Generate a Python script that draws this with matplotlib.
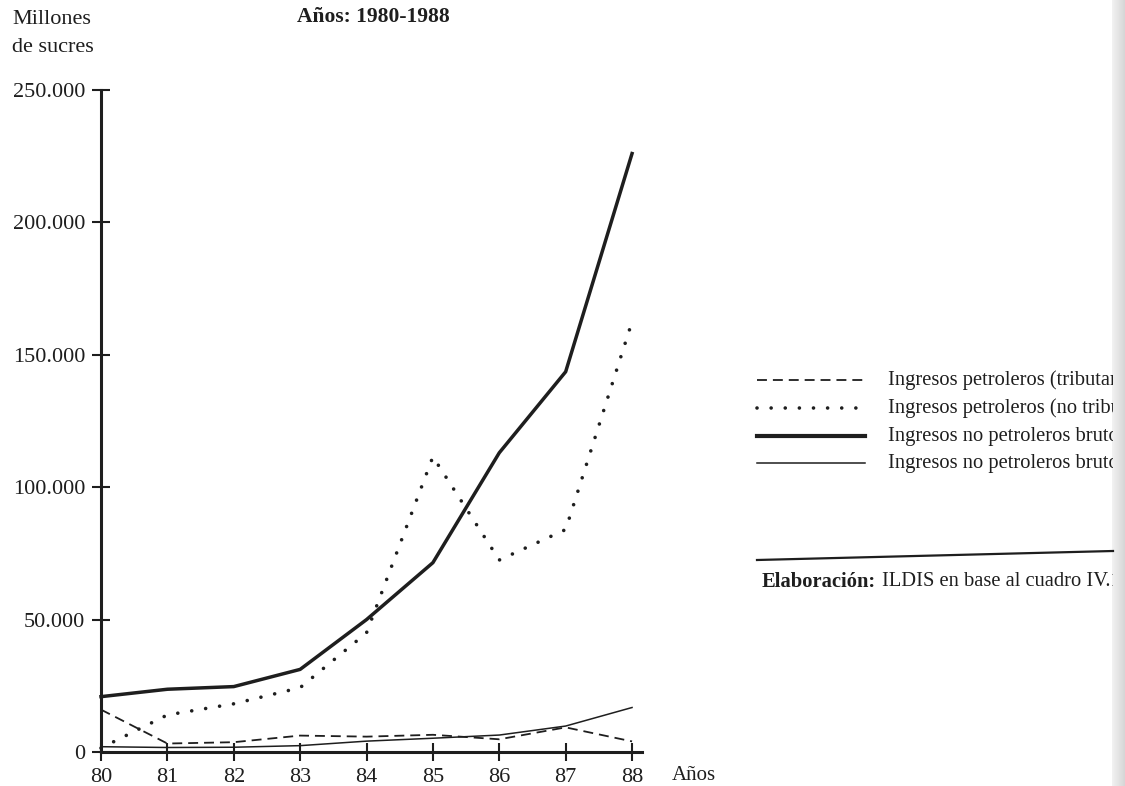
import numpy as np
import matplotlib
matplotlib.use("Agg")
import matplotlib.pyplot as plt
from matplotlib.lines import Line2D
from matplotlib.transforms import Bbox, TransformedBbox
from matplotlib.colors import LinearSegmentedColormap

plt.rcParams['font.family'] = ['Liberation Serif', 'DejaVu Serif']

# ---- data ----
years = [80, 81, 82, 83, 84, 85, 86, 87, 88]
petro_trib = [16000, 3200, 3700, 6200, 5800, 6500, 4800, 9300, 4000]
petro_no_trib = [1500, 14000, 18200, 24300, 45000, 111500, 72500, 84000, 162500]
no_petro_brutos_trib = [20900, 23700, 24700, 31200, 50000, 71500, 113000, 143600, 226000]
no_petro_brutos_no_trib = [2000, 1700, 1800, 2400, 4100, 5200, 6400, 9800, 16800]
labels = ["Ingresos petroleros (tributarios)",
          "Ingresos petroleros (no tributarios)",
          "Ingresos no petroleros brutos (tributarios)",
          "Ingresos no petroleros brutos (no tributarios)"]
yticks = [0, 50000, 100000, 150000, 200000, 250000]
ytick_labels = ["0", "50.000", "100.000", "150.000", "200.000", "250.000"]

W, H = 1125, 786
fig = plt.figure(figsize=(W / 100, H / 100), dpi=100)
fig.patch.set_facecolor('white')

ink = '#1e1e1e'
ax = fig.add_axes([101 / W, 1 - 752 / H, (642 - 101) / W, (752 - 90) / H])
ax.set_facecolor('none')

styles = [
    dict(color=ink, lw=1.3, linestyle=(0, (5.5, 3.3))),
    dict(color=ink, lw=2.6, linestyle=(0, (0.01, 3.9)), dash_capstyle='round'),
    dict(color=ink, lw=2.5, linestyle='-'),
    dict(color=ink, lw=1.1, linestyle='-'),
]
series = [petro_trib, petro_no_trib, no_petro_brutos_trib, no_petro_brutos_no_trib]
for vals, st in zip(series, styles):
    ax.plot(years, vals, clip_on=False, **st)

ax.set_xlim(80, 88.15)
ax.set_ylim(0, 250000)
for s in ['top', 'right']:
    ax.spines[s].set_visible(False)
for s in ['left', 'bottom']:
    ax.spines[s].set_linewidth(2.2)
    ax.spines[s].set_color(ink)
ax.set_xticks(years)
ax.set_xticklabels([str(y) for y in years])
ax.set_yticks(yticks)
ax.set_yticklabels(ytick_labels)
ax.tick_params(axis='both', direction='inout', length=13, width=1.5, color=ink,
               labelsize=16, labelcolor=ink)
ax.tick_params(axis='y', pad=5)
ax.tick_params(axis='x', pad=5)

fig.text(672 / W, 1 - 775 / H, "Años", ha='left', va='center', fontsize=15, color=ink)

# y label and title
fig.text(12 / W, 1 - 20 / H, "Millones", ha='left', va='center', fontsize=16, color=ink)
fig.text(12 / W, 1 - 47 / H, "de sucres", ha='left', va='center', fontsize=16, color=ink)
fig.text(373 / W, 1 - 17 / H, "Años: 1980-1988", ha='center', va='center', fontsize=15.5,
         fontweight='bold', color=ink)
fig.text(373 / W, 1 + 5 / H, "Millones de sucres", ha='center', va='center', fontsize=15.5,
         fontweight='bold', color=ink)

# manual legend
clipbox = TransformedBbox(Bbox([[0, 0], [1113 / W, 1]]), fig.transFigure)
rows = [380, 408, 436, 463]
for yy, lab, st in zip(rows, labels, styles):
    st2 = dict(st)
    if st2['lw'] == 2.5:
        st2['lw'] = 3.0
    fig.add_artist(Line2D([757 / W, 865 / W], [1 - yy / H, 1 - yy / H],
                          transform=fig.transFigure, **st2))
    t = fig.text(888 / W, 1 - yy / H, lab, ha='left', va='center', fontsize=14.8, color=ink)
    t.set_clip_box(clipbox)
    t.set_clip_on(True)

# separator and source
fig.add_artist(Line2D([757 / W, 1113 / W], [1 - 560 / H, 1 - 551 / H],
                      transform=fig.transFigure, color=ink, lw=1.6))
fig.text(762 / W, 1 - 582 / H, "Elaboración:", ha='left', va='center', fontsize=14.8,
         fontweight='bold', color=ink)
t2 = fig.text(882 / W, 1 - 582 / H, "ILDIS en base al cuadro IV.1", ha='left', va='center',
              fontsize=14.8, color=ink)
t2.set_clip_box(clipbox)
t2.set_clip_on(True)

# scan shadow on right edge
sax = fig.add_axes([1112 / W, 0, 13 / W, 1])
sax.set_axis_off()
grad = np.linspace(0, 1, 50)[None, :]
cmap = LinearSegmentedColormap.from_list('sh', ['#f2f2f2', '#d6d6d6'])
sax.imshow(grad, aspect='auto', cmap=cmap, extent=[0, 1, 0, 1])

fig.savefig("out.png", dpi=100)
